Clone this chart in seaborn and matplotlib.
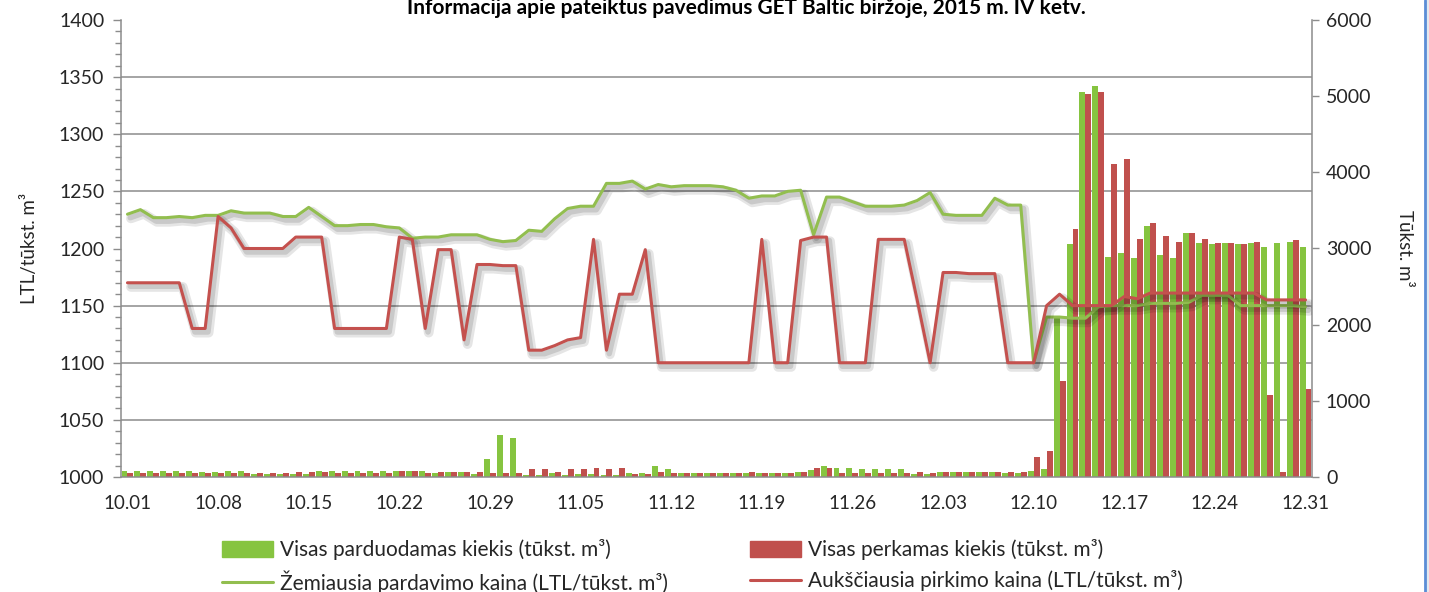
import numpy as np
import pandas as pd
import matplotlib.pyplot as plt
import matplotlib.patheffects as pe
import matplotlib.patches as mpatches
import matplotlib.lines as mlines
from matplotlib.ticker import MultipleLocator
import seaborn as sns

# 2015 Q4, one category per day
dates = pd.date_range('2015-10-01', '2015-12-31').strftime('%m.%d')

# lowest selling price (LTL/tukst. m3)
sell_price = [1230, 1234, 1227, 1227, 1228, 1227, 1229, 1229, 1233, 1231,
              1231, 1231, 1228, 1228, 1236, 1228, 1220, 1220, 1221, 1221,
              1219, 1218, 1209, 1210, 1210, 1212, 1212, 1212, 1208, 1206,
              1207, 1216, 1215, 1226, 1235, 1237, 1237, 1257, 1257, 1259,
              1252, 1256, 1254, 1255, 1255, 1255, 1254, 1251, 1244, 1246,
              1246, 1250, 1251, 1212, 1245, 1245, 1241, 1237, 1237, 1237,
              1238, 1242, 1249, 1230, 1229, 1229, 1229, 1244, 1238, 1238,
              1100, 1140, 1140, 1139, 1139, 1149, 1150, 1150, 1150, 1152,
              1152, 1152, 1153, 1159, 1159, 1159, 1150, 1150, 1150, 1150,
              1150, 1149]

# highest buying price (LTL/tukst. m3)
buy_price = [1170, 1170, 1170, 1170, 1170, 1130, 1130, 1228, 1218, 1200,
             1200, 1200, 1200, 1210, 1210, 1210, 1130, 1130, 1130, 1130,
             1130, 1210, 1208, 1130, 1199, 1199, 1120, 1186, 1186, 1185,
             1185, 1111, 1111, 1115, 1120, 1122, 1208, 1111, 1160, 1160,
             1199, 1100, 1100, 1100, 1100, 1100, 1100, 1100, 1100, 1208,
             1100, 1100, 1207, 1210, 1210, 1100, 1100, 1100, 1208, 1208,
             1208, 1155, 1100, 1179, 1179, 1178, 1178, 1178, 1100, 1100,
             1100, 1150, 1160, 1150, 1150, 1150, 1150, 1158, 1156, 1161,
             1161, 1161, 1161, 1161, 1161, 1161, 1161, 1161, 1155, 1155,
             1155, 1155]

# total volume offered for sale (tukst. m3)
sell_vol = [80, 80, 80, 80, 80, 80, 60, 60, 80, 80,
            45, 45, 45, 45, 45, 80, 80, 80, 80, 80,
            80, 80, 80, 80, 50, 60, 60, 45, 230, 550,
            510, 25, 25, 50, 20, 35, 35, 20, 20, 50,
            50, 140, 100, 50, 50, 50, 50, 50, 50, 50,
            50, 50, 60, 90, 140, 120, 120, 100, 100, 100,
            100, 35, 35, 65, 60, 60, 60, 60, 50, 50,
            80, 100, 2090, 3060, 5060, 5130, 2890, 2940, 2870, 3290,
            2920, 2870, 3200, 3070, 3060, 3070, 3060, 3070, 3020, 3070,
            3090, 3020]

# total volume bid for purchase (tukst. m3)
buy_vol = [55, 55, 55, 55, 55, 55, 55, 55, 55, 55,
           55, 55, 55, 65, 65, 65, 55, 55, 55, 55,
           55, 80, 80, 55, 60, 60, 60, 60, 55, 55,
           55, 100, 100, 65, 100, 100, 120, 110, 120, 35,
           35, 65, 50, 50, 50, 50, 50, 50, 60, 50,
           50, 50, 70, 115, 115, 50, 50, 50, 50, 50,
           50, 65, 50, 65, 60, 60, 60, 60, 60, 60,
           260, 340, 1260, 3260, 5030, 5060, 4110, 4170, 3130, 3330,
           3170, 3090, 3200, 3130, 3070, 3070, 3060, 3090, 1080, 60,
           3110, 1160]

labels = ['Visas parduodamas kiekis (tūkst. m³)',
          'Visas perkamas kiekis (tūkst. m³)',
          'Žemiausia pardavimo kaina (LTL/tūkst. m³)',
          'Aukščiausia pirkimo kaina (LTL/tūkst. m³)']

GREEN_BAR = '#86C440'
RED_BAR = '#C0504D'
GREEN_LINE = '#92BE4F'
RED_LINE = '#C4514E'
GRID = '#8C8C8C'
TXT = '#262626'

sns.set_style('white')
plt.rcParams['font.family'] = ['Lato', 'DejaVu Sans']

fig = plt.figure(figsize=(14.29, 5.92), dpi=100)
ax = fig.add_axes([121 / 1429, 1 - 477 / 592, (1312 - 121) / 1429, (477 - 20) / 592])
ax2 = ax.twinx()

n = len(dates)
vol = pd.DataFrame({'day': np.tile(np.arange(n), 2),
                    'kiekis': sell_vol + buy_vol,
                    'serija': [labels[0]] * n + [labels[1]] * n})
sns.barplot(data=vol, x='day', y='kiekis', hue='serija',
            palette=[GREEN_BAR, RED_BAR], saturation=1, width=0.92,
            linewidth=0, legend=False, ax=ax2)

shadow = [pe.SimpleLineShadow(offset=(2.5, -3), shadow_color='k', alpha=0.10, linewidth=7),
          pe.SimpleLineShadow(offset=(2, -2.5), shadow_color='k', alpha=0.12, linewidth=4),
          pe.Normal()]
sns.lineplot(x=np.arange(n), y=sell_price, color=GREEN_LINE, lw=2.2,
             path_effects=shadow, ax=ax)
sns.lineplot(x=np.arange(n), y=buy_price, color=RED_LINE, lw=2.2,
             path_effects=shadow, ax=ax)

ax.set_zorder(ax2.get_zorder() + 1)
ax.patch.set_visible(False)

# left axis: prices
ax.set_ylim(1000, 1400)
ax.yaxis.set_major_locator(MultipleLocator(50))
ax.yaxis.set_minor_locator(MultipleLocator(10))
ax.tick_params(axis='y', which='major', direction='out', length=6, width=1,
               color=GRID, labelsize=14, labelcolor=TXT, pad=6, left=True)
ax.tick_params(axis='y', which='minor', direction='out', length=4, width=1,
               color=GRID, left=True)
ax.set_ylabel('LTL/tūkst. m³', fontsize=13.5, color=TXT, labelpad=15)

# right axis: volumes, gridlines follow the left scale
ax2.set_ylim(0, 6000)
ax2.yaxis.set_major_locator(MultipleLocator(1000))
ax2.set_yticks(np.arange(0, 6001, 750), minor=True)
ax2.tick_params(axis='y', which='major', direction='out', length=5, width=1,
                color=GRID, labelsize=14, labelcolor=TXT, pad=5, right=True)
ax2.tick_params(axis='y', which='minor', length=0)
ax2.grid(axis='y', which='minor', color=GRID, lw=1.1)
ax2.grid(axis='y', which='major', visible=False)
ax2.set_axisbelow(True)
ax2.set_ylabel('Tūkst. m³', fontsize=13.5, color=TXT, rotation=270, labelpad=30)

# shared category axis
ax.set_xlim(-0.5, n - 0.5)
ax.set_xticks(np.arange(0, n, 7))
ax.set_xticklabels(dates[::7])
ax.tick_params(axis='x', length=0, labelsize=13.5, labelcolor=TXT, pad=13)
ax.set_xlabel('')

for a in (ax, ax2):
    for s in a.spines.values():
        s.set_visible(False)
ax.spines['left'].set_visible(True)
ax.spines['bottom'].set_visible(True)
ax2.spines['right'].set_visible(True)
for s in (ax.spines['left'], ax.spines['bottom'], ax2.spines['right']):
    s.set_color(GRID)
    s.set_linewidth(1.1)

fig.text(0.522, 1 - 14 / 592,
         'Informacija apie pateiktus pavedimus GET Baltic biržoje, 2015 m. IV ketv.',
         ha='center', va='baseline', fontsize=15, fontweight='bold', color='black')

handles = [mpatches.Patch(color=GREEN_BAR, label=labels[0]),
           mlines.Line2D([], [], color=GREEN_LINE, lw=2.2, label=labels[2]),
           mpatches.Patch(color=RED_BAR, label=labels[1]),
           mlines.Line2D([], [], color=RED_LINE, lw=2.2, label=labels[3])]
fig.legend(handles=handles, ncol=2, loc='upper left',
           bbox_to_anchor=(222 / 1429, 1 - 539 / 592), frameon=False,
           fontsize=15, handlelength=2.45, handleheight=0.8, handletextpad=0.35,
           columnspacing=3.9, labelspacing=0.5, borderaxespad=0, borderpad=0)

# frame edge seen at the right of the original screenshot
fig.add_artist(mpatches.Rectangle((1426 / 1429, 0), 3 / 1429, 1,
                                  transform=fig.transFigure, color='#E4E8EE', lw=0))
fig.add_artist(mlines.Line2D([1425 / 1429] * 2, [0, 1], transform=fig.transFigure,
                             color='#5B8DD6', lw=2))

fig.savefig('out.png', dpi=100)
